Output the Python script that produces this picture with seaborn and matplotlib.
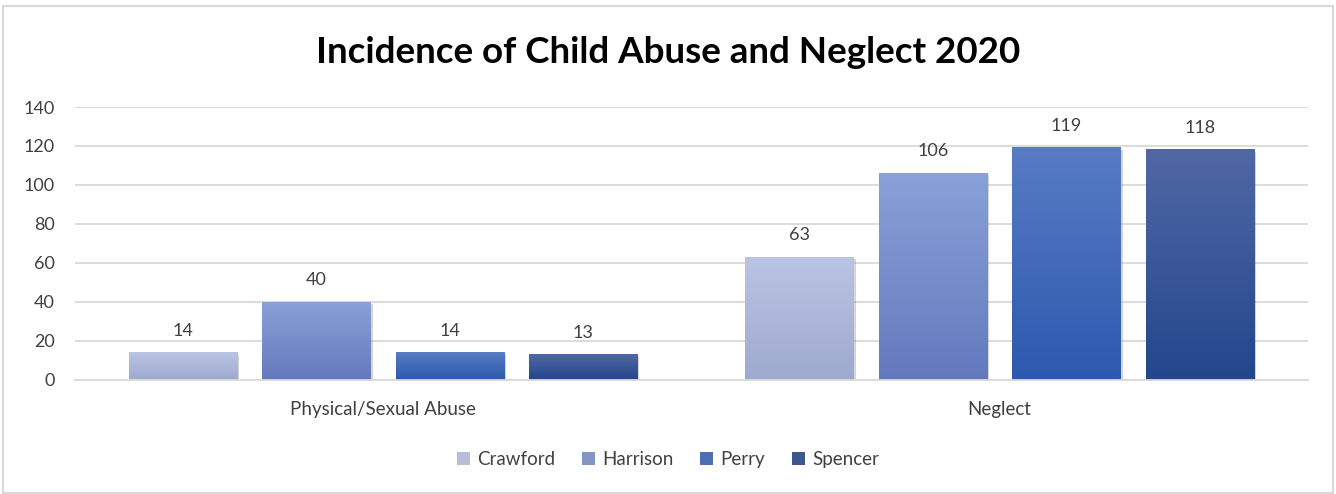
import numpy as np
import pandas as pd
import matplotlib
matplotlib.use("Agg")
import matplotlib.pyplot as plt
import seaborn as sns
from matplotlib.colors import LinearSegmentedColormap
from matplotlib.patches import Rectangle
import matplotlib.patheffects as pe

categories = ["Physical/Sexual Abuse", "Neglect"]
counties = ["Crawford", "Harrison", "Perry", "Spencer"]
crawford = [14, 63]
harrison = [40, 106]
perry = [14, 119]
spencer = [13, 118]
title = "Incidence of Child Abuse and Neglect 2020"
yticks = [0, 20, 40, 60, 80, 100, 120, 140]

# gradient colours (top, bottom) per county
grad_top = ["#BAC4E4", "#8AA0D8", "#587CC4", "#5068A4"]
grad_bot = ["#9EA9CF", "#6479BD", "#2C58AE", "#23468C"]
mid_cols = ["#B0BCE0", "#7790CF", "#3D68C2", "#2F529A"]

rows = []
for name, vals in zip(counties, [crawford, harrison, perry, spencer]):
    for c, v in zip(categories, vals):
        rows.append({"category": c, "county": name, "value": v})
df = pd.DataFrame(rows)

sns.set_theme(style="white")
plt.rcParams["font.family"] = ["Lato", "DejaVu Sans"]

fig = plt.figure(figsize=(13.36, 4.94), dpi=100)
ax = fig.add_axes([0.056, 0.2308, 0.923, 0.5526])

sns.barplot(data=df, x="category", y="value", hue="county", order=categories,
            hue_order=counties, palette=mid_cols, width=0.866, gap=0.19,
            ax=ax, legend=True, edgecolor="none")

ax.set_ylim(0, 140)
ax.set_xlim(-0.5, 1.5)
ax.set_yticks(yticks)
ax.set_yticklabels([str(t) for t in yticks], color="#404040", fontsize=13)
ax.tick_params(axis="y", length=0, pad=14.5)
ax.tick_params(axis="x", length=0, pad=15, labelsize=13.5, labelcolor="#404040")
ax.set_xlabel("")
ax.set_ylabel("")
ax.grid(axis="y", color="#D9D9D9", linewidth=1.3)
ax.set_axisbelow(True)
for s in ["top", "right", "left"]:
    ax.spines[s].set_visible(False)
ax.spines["bottom"].set_color("#D9D9D9")
ax.spines["bottom"].set_linewidth(1.3)

# gradient fills and labels
for i, cont in enumerate(ax.containers):
    cmap = LinearSegmentedColormap.from_list("g%d" % i, [grad_bot[i], grad_top[i]])
    for bar in cont:
        x0, y0 = bar.get_x(), bar.get_y()
        w, h = bar.get_width(), bar.get_height()
        bar.set_path_effects([pe.SimplePatchShadow(offset=(1.5, -1.5), shadow_rgbFace="#888888", alpha=0.35),
                              pe.Normal()])
        grad = np.linspace(0, 1, 256).reshape(-1, 1)
        ax.imshow(grad, extent=[x0, x0 + w, y0, y0 + h], origin="lower", aspect="auto",
                  cmap=cmap, zorder=bar.get_zorder() + 0.1, interpolation="bilinear")
        ax.annotate(f"{h:.0f}", (x0 + w / 2, y0 + h), xytext=(0, 10), textcoords="offset points",
                    ha="center", va="bottom", fontsize=13, color="#404040")
ax.set_ylim(0, 140)
ax.set_xlim(-0.5, 1.5)

leg = ax.get_legend()
handles = leg.legend_handles
leg.remove()
fig.legend(handles, counties, loc="center", bbox_to_anchor=(0.5, 0.069), ncol=4, frameon=False,
           fontsize=13.5, handlelength=0.7, handleheight=0.7, handletextpad=0.4, columnspacing=1.4,
           labelcolor="#404040")

fig.text(0.5, 0.893, title, ha="center", va="center", fontsize=26.5, fontweight="bold", color="#000000")

fig.patches.append(Rectangle((0.002, 0.002), 0.996, 0.985, transform=fig.transFigure,
                             fill=False, edgecolor="#D9D9D9", linewidth=1.5))

fig.savefig("out.png", dpi=100)
